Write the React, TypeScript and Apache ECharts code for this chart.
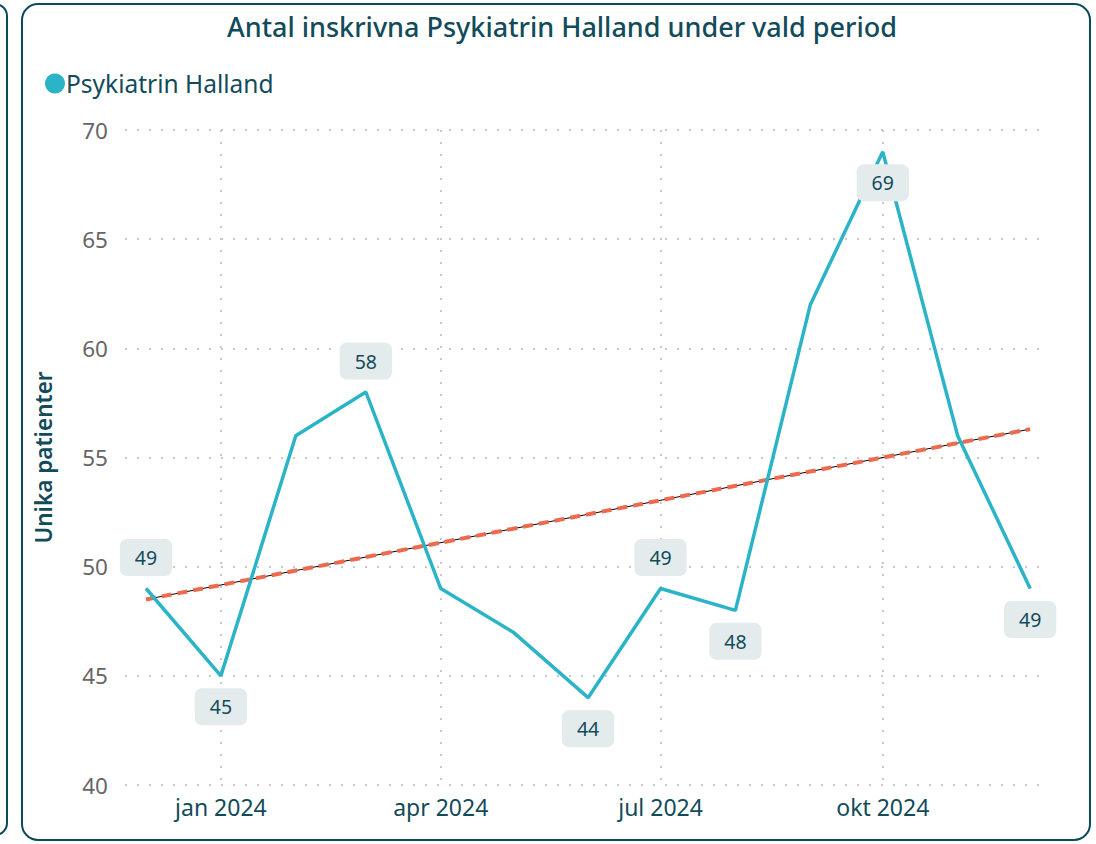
import React, { useEffect, useRef } from "react";
import * as echarts from "echarts";

const months = ["2023-12", "2024-01", "2024-02", "2024-03", "2024-04", "2024-05", "2024-06", "2024-07", "2024-08", "2024-09", "2024-10", "2024-11", "2024-12"];
const patients = [49, 45, 56, 58, 49, 47, 44, 49, 48, 62, 69, 56, 49];
const trendMonths = ["2023-12", "2024-12"];
const trendValues = [48.5, 56.3];
const xTickMonths = ["2024-01", "2024-04", "2024-07", "2024-10"];
const yTicks = [40, 45, 50, 55, 60, 65, 70];
const monthNames = ["jan", "feb", "mar", "apr", "maj", "jun", "jul", "aug", "sep", "okt", "nov", "dec"];

const TITLE = "Antal inskrivna Psykiatrin Halland under vald period";
const SERIES_NAME = "Psykiatrin Halland";
const Y_NAME = "Unika patienter";

// label placement per point index (style only)
const labelPlacement: Record<number, string> = {
  0: "top", 1: "bottom", 3: "top", 6: "bottom", 7: "top", 8: "bottom", 10: "bottom", 12: "bottom",
};

const ts = (m: string) => {
  const [y, mo] = m.split("-").map(Number);
  return Date.UTC(y, mo - 1, 1);
};
const DAY = 86400000;
const FONT = "'Noto Sans', 'Open Sans', sans-serif";
const DARK = "#124b5a";

export default function App() {
  const ref = useRef<HTMLDivElement>(null);
  useEffect(() => {
    if (!ref.current) return;
    const chart = echarts.init(ref.current, undefined, { renderer: "svg" });
    const lineData = months.map((m, i) => {
      const pos = labelPlacement[i];
      return {
        value: [ts(m), patients[i]],
        label: pos
          ? {
              show: true,
              position: pos,
              distance: 12,
              color: DARK,
              fontSize: 19.5,
              fontFamily: FONT,
              backgroundColor: "#e4ebed",
              borderRadius: 7,
              padding: [8, 15],
              lineHeight: 21,
            }
          : { show: false },
      };
    });
    chart.setOption({
      animation: false,
      textStyle: { fontFamily: FONT },
      title: {
        text: TITLE,
        left: 557,
        textAlign: "center",
        top: 8,
        textStyle: { fontSize: 27, fontWeight: 500, color: DARK, fontFamily: FONT },
      },
      legend: {
        data: [SERIES_NAME],
        left: 40,
        top: 66,
        icon: "circle",
        itemWidth: 20,
        itemHeight: 20,
        itemGap: 4,
        textStyle: { fontSize: 24.5, color: DARK, fontFamily: FONT, padding: [0, 0, 0, -4] },
      },
      graphic: [
        { type: "rect", shape: { x: -20, y: 4, width: 27, height: 831, r: 12 }, style: { fill: "none", stroke: "#0b4a5a", lineWidth: 2 }, silent: true },
        { type: "rect", shape: { x: 22, y: 4, width: 1068, height: 836, r: 16 }, style: { fill: "none", stroke: "#0b4a5a", lineWidth: 2 }, silent: true },
      ],
      grid: { left: 125, right: 55, top: 130, bottom: 59, containLabel: false },
      xAxis: {
        type: "value",
        min: ts("2023-12") - 8.7 * DAY,
        max: ts("2024-12") + 4.5 * DAY,
        axisLine: { show: false },
        axisTick: { show: false, customValues: xTickMonths.map(ts) },
        axisLabel: {
          customValues: xTickMonths.map(ts),
          color: DARK,
          fontSize: 23,
          margin: 10,
          fontFamily: FONT,
          formatter: (v: number) => {
            const d = new Date(v);
            return monthNames[d.getUTCMonth()] + " " + d.getUTCFullYear();
          },
        },
        splitLine: { show: true, lineStyle: { color: "#c8c8c8", type: [2, 10], width: 2 } },
      },
      yAxis: {
        type: "value",
        min: yTicks[0],
        max: yTicks[yTicks.length - 1],
        interval: 5,
        name: Y_NAME,
        nameLocation: "middle",
        nameGap: 70,
        nameTextStyle: { fontSize: 22.5, fontWeight: 600, color: DARK, fontFamily: FONT },
        axisLine: { show: false },
        axisTick: { show: false },
        axisLabel: { color: "#666666", fontSize: 22.5, margin: 17, fontFamily: FONT },
        splitLine: { show: true, lineStyle: { color: "#c8c8c8", type: [2, 10], width: 2 } },
      },
      series: [
        {
          name: "trend-line",
          type: "line",
          data: trendMonths.map((m, i) => [ts(m), trendValues[i]]),
          symbol: "none",
          lineStyle: { color: "#000000", width: 1 },
          z: 3,
        },
        {
          name: "trend-dash",
          type: "line",
          data: trendMonths.map((m, i) => [ts(m), trendValues[i]]),
          symbol: "none",
          lineStyle: { color: "#ee6a4e", width: 4, type: [10, 6] },
          z: 4,
        },
        {
          name: SERIES_NAME,
          type: "line",
          data: lineData,
          symbol: "circle",
          symbolSize: 1,
          showSymbol: true,
          itemStyle: { color: "#2bb4c7" },
          lineStyle: { color: "#2bb4c7", width: 3.5 },
          z: 5,
        },
      ],
    });
    return () => chart.dispose();
  }, []);
  return (
    <div
      ref={ref}
      style={{ position: "fixed", left: 0, top: 0, width: 1096, height: 844, background: "#ffffff" }}
    />
  );
}
